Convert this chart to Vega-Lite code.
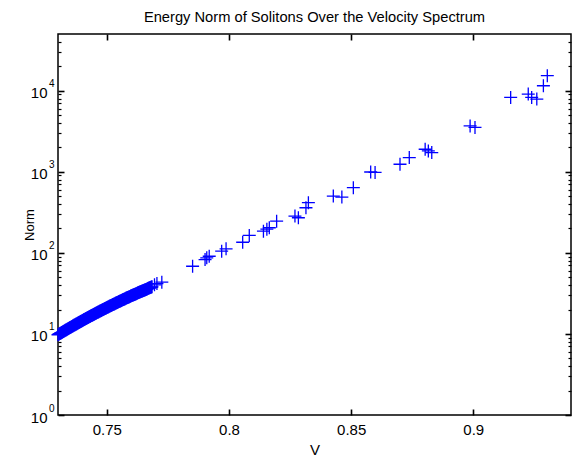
{
  "$schema": "https://vega.github.io/schema/vega-lite/v6.json",
  "width": 513,
  "height": 381,
  "autosize": {"type": "none"},
  "padding": {"left": 58, "top": 34, "right": 4, "bottom": 49},
  "background": "white",
  "title": {"text": "Energy Norm of Solitons Over the Velocity Spectrum", "font": "Liberation Sans", "fontSize": 14.7, "fontWeight": "normal", "color": "black", "offset": 9, "anchor": "middle"},
  "config": {
    "view": {"stroke": "black", "strokeWidth": 1.5},
    "axis": {"domain": false, "grid": false, "tickColor": "black", "tickWidth": 1.6, "labelColor": "black", "labelFont": "Liberation Sans", "labelFontSize": 15, "titleFont": "Liberation Sans", "titleColor": "black", "titleFontWeight": "normal", "labelFlush": false, "labelOverlap": false}
  },
  "datasets": {
    "pts": [
      {"v":0.7300,"norm":9.77},{"v":0.7305,"norm":9.98},{"v":0.7310,"norm":10.19},{"v":0.7315,"norm":10.40},{"v":0.7320,"norm":10.62},
      {"v":0.7325,"norm":10.84},{"v":0.7330,"norm":11.07},{"v":0.7335,"norm":11.29},{"v":0.7340,"norm":11.53},{"v":0.7345,"norm":11.76},
      {"v":0.7350,"norm":12.00},{"v":0.7355,"norm":12.25},{"v":0.7360,"norm":12.50},{"v":0.7365,"norm":12.75},{"v":0.7370,"norm":13.00},
      {"v":0.7375,"norm":13.26},{"v":0.7380,"norm":13.53},{"v":0.7385,"norm":13.79},{"v":0.7390,"norm":14.07},{"v":0.7395,"norm":14.34},
      {"v":0.7400,"norm":14.62},{"v":0.7405,"norm":14.91},{"v":0.7410,"norm":15.19},{"v":0.7415,"norm":15.49},{"v":0.7420,"norm":15.78},
      {"v":0.7425,"norm":16.08},{"v":0.7430,"norm":16.39},{"v":0.7435,"norm":16.70},{"v":0.7440,"norm":17.01},{"v":0.7445,"norm":17.33},
      {"v":0.7450,"norm":17.65},{"v":0.7455,"norm":17.98},{"v":0.7460,"norm":18.31},{"v":0.7465,"norm":18.65},{"v":0.7470,"norm":18.99},
      {"v":0.7475,"norm":19.33},{"v":0.7480,"norm":19.68},{"v":0.7485,"norm":20.04},{"v":0.7490,"norm":20.40},{"v":0.7495,"norm":20.76},
      {"v":0.7500,"norm":21.13},{"v":0.7505,"norm":21.50},{"v":0.7510,"norm":21.88},{"v":0.7515,"norm":22.26},{"v":0.7520,"norm":22.64},
      {"v":0.7525,"norm":23.04},{"v":0.7530,"norm":23.43},{"v":0.7535,"norm":23.84},{"v":0.7540,"norm":24.24},{"v":0.7545,"norm":24.65},
      {"v":0.7550,"norm":25.07},{"v":0.7555,"norm":25.49},{"v":0.7560,"norm":25.92},{"v":0.7565,"norm":26.34},{"v":0.7570,"norm":26.78},
      {"v":0.7575,"norm":27.22},{"v":0.7580,"norm":27.66},{"v":0.7585,"norm":28.10},{"v":0.7590,"norm":28.56},{"v":0.7595,"norm":29.02},
      {"v":0.7600,"norm":29.48},{"v":0.7605,"norm":29.95},{"v":0.7610,"norm":30.42},{"v":0.7615,"norm":30.90},{"v":0.7620,"norm":31.38},
      {"v":0.7625,"norm":31.87},{"v":0.7630,"norm":32.36},{"v":0.7635,"norm":32.86},{"v":0.7640,"norm":33.36},{"v":0.7645,"norm":33.86},
      {"v":0.7650,"norm":34.37},{"v":0.7655,"norm":34.89},{"v":0.7660,"norm":35.41},{"v":0.7665,"norm":35.93},{"v":0.7670,"norm":36.46},
      {"v":0.7675,"norm":37.00},{"v":0.7680,"norm":37.54},{"v":0.7685,"norm":38.08},
      {"v":0.73025,"norm":9.875},{"v":0.73075,"norm":10.085},{"v":0.73125,"norm":10.295},{"v":0.73175,"norm":10.51},{"v":0.73225,"norm":10.73},
      {"v":0.73275,"norm":10.955},{"v":0.73325,"norm":11.18},{"v":0.73375,"norm":11.41},{"v":0.73425,"norm":11.645},{"v":0.73475,"norm":11.88},
      {"v":0.73525,"norm":12.125},{"v":0.73575,"norm":12.375},{"v":0.73625,"norm":12.625},{"v":0.73675,"norm":12.875},{"v":0.73725,"norm":13.13},
      {"v":0.73775,"norm":13.395},{"v":0.73825,"norm":13.66},{"v":0.73875,"norm":13.93},{"v":0.73925,"norm":14.205},{"v":0.73975,"norm":14.48},
      {"v":0.74025,"norm":14.765},{"v":0.74075,"norm":15.05},{"v":0.74125,"norm":15.34},{"v":0.74175,"norm":15.635},{"v":0.74225,"norm":15.93},
      {"v":0.74275,"norm":16.235},{"v":0.74325,"norm":16.545},{"v":0.74375,"norm":16.855},{"v":0.74425,"norm":17.17},{"v":0.74475,"norm":17.49},
      {"v":0.74525,"norm":17.815},{"v":0.74575,"norm":18.145},{"v":0.74625,"norm":18.48},{"v":0.74675,"norm":18.82},{"v":0.74725,"norm":19.16},
      {"v":0.74775,"norm":19.505},{"v":0.74825,"norm":19.86},{"v":0.74875,"norm":20.22},{"v":0.74925,"norm":20.58},{"v":0.74975,"norm":20.945},
      {"v":0.75025,"norm":21.315},{"v":0.75075,"norm":21.69},{"v":0.75125,"norm":22.07},{"v":0.75175,"norm":22.45},{"v":0.75225,"norm":22.84},
      {"v":0.75275,"norm":23.235},{"v":0.75325,"norm":23.635},{"v":0.75375,"norm":24.04},{"v":0.75425,"norm":24.445},{"v":0.75475,"norm":24.86},
      {"v":0.75525,"norm":25.28},{"v":0.75575,"norm":25.705},{"v":0.75625,"norm":26.13},{"v":0.75675,"norm":26.56},{"v":0.75725,"norm":27.0},
      {"v":0.75775,"norm":27.44},{"v":0.75825,"norm":27.88},{"v":0.75875,"norm":28.33},{"v":0.75925,"norm":28.79},{"v":0.75975,"norm":29.25},
      {"v":0.76025,"norm":29.715},{"v":0.76075,"norm":30.185},{"v":0.76125,"norm":30.66},{"v":0.76175,"norm":31.14},{"v":0.76225,"norm":31.625},
      {"v":0.76275,"norm":32.115},{"v":0.76325,"norm":32.61},{"v":0.76375,"norm":33.11},{"v":0.76425,"norm":33.61},{"v":0.76475,"norm":34.115},
      {"v":0.76525,"norm":34.63},{"v":0.76575,"norm":35.15},{"v":0.76625,"norm":35.67},{"v":0.76675,"norm":36.195},{"v":0.76725,"norm":36.73},
      {"v":0.76775,"norm":37.27},{"v":0.76825,"norm":37.81},
      {"v":0.7695,"norm":40.3},{"v":0.7705,"norm":41.8},{"v":0.7725,"norm":43.5},
      {"v":0.7851,"norm":68.3},{"v":0.7902,"norm":82.6},{"v":0.7909,"norm":86.7},{"v":0.7919,"norm":90.8},
      {"v":0.7970,"norm":104.7},{"v":0.7988,"norm":112},{"v":0.8056,"norm":135},{"v":0.8083,"norm":164},
      {"v":0.8141,"norm":185},{"v":0.8155,"norm":196},{"v":0.8165,"norm":204},{"v":0.8195,"norm":246},
      {"v":0.8270,"norm":284},{"v":0.8284,"norm":271},{"v":0.8315,"norm":360},{"v":0.8325,"norm":415},
      {"v":0.8427,"norm":501},{"v":0.8462,"norm":487},{"v":0.8509,"norm":637},{"v":0.8580,"norm":993},
      {"v":0.8598,"norm":980},{"v":0.8700,"norm":1237},{"v":0.8738,"norm":1497},{"v":0.8803,"norm":1896},
      {"v":0.8816,"norm":1806},{"v":0.8830,"norm":1726},{"v":0.8987,"norm":3680},{"v":0.9007,"norm":3517},
      {"v":0.9153,"norm":8260},{"v":0.9225,"norm":9080},{"v":0.9239,"norm":8260},{"v":0.9260,"norm":7870},
      {"v":0.9287,"norm":11500},{"v":0.9303,"norm":15300}
    ],
    "helper": [{"v":0.8,"norm":10}]
  },
  "resolve": {"axis": {"x": "independent", "y": "independent"}},
  "layer": [
    {
      "data": {"name": "pts"},
      "mark": {"type": "point", "shape": "M-1,0L1,0M0,-1L0,1", "filled": false, "stroke": "#0000ff", "strokeWidth": 1.3, "size": 169, "opacity": 1},
      "encoding": {
        "x": {"field": "v", "type": "quantitative", "scale": {"domain": [0.73, 0.94], "nice": false, "zero": false},
              "axis": {"orient": "bottom", "values": [0.75, 0.8, 0.85, 0.9], "format": "~g", "tickSize": -6, "labelPadding": 13, "title": "V", "titleFontSize": 15, "titlePadding": 5}},
        "y": {"field": "norm", "type": "quantitative", "scale": {"type": "log", "domain": [1, 50000], "nice": false},
              "axis": {"orient": "left", "values": [1, 10, 100, 1000, 10000], "labelExpr": "'10'", "tickSize": -6, "labelPadding": 17, "labelOffset": 2, "title": "Norm", "titleFontSize": 13, "titlePadding": -6}}
      }
    },
    {
      "data": {"name": "helper"},
      "mark": {"type": "point", "opacity": 0},
      "encoding": {
        "x": {"field": "v", "type": "quantitative", "scale": {"domain": [0.73, 0.94], "nice": false, "zero": false},
              "axis": {"orient": "top", "values": [0.75, 0.8, 0.85, 0.9], "tickSize": -6, "labels": false, "title": null}},
        "y": {"field": "norm", "type": "quantitative", "scale": {"type": "log", "domain": [1, 50000], "nice": false},
              "axis": {"orient": "left", "values": [1, 10, 100, 1000, 10000], "ticks": false, "labelExpr": "'' + round(log(datum.value) / LN10)", "labelFontSize": 10, "labelPadding": 4, "labelOffset": -7, "title": null}}
      }
    },
    {
      "data": {"name": "helper"},
      "mark": {"type": "point", "opacity": 0},
      "encoding": {
        "x": {"field": "v", "type": "quantitative", "scale": {"domain": [0.73, 0.94], "nice": false, "zero": false}, "axis": null},
        "y": {"field": "norm", "type": "quantitative", "scale": {"type": "log", "domain": [1, 50000], "nice": false},
              "axis": {"orient": "left", "values": [2,3,4,5,6,7,8,9,20,30,40,50,60,70,80,90,200,300,400,500,600,700,800,900,2000,3000,4000,5000,6000,7000,8000,9000,20000,30000,40000], "tickSize": -3, "tickWidth": 1.2, "labels": false, "title": null}}
      }
    },
    {
      "data": {"name": "helper"},
      "mark": {"type": "point", "opacity": 0},
      "encoding": {
        "x": {"field": "v", "type": "quantitative", "scale": {"domain": [0.73, 0.94], "nice": false, "zero": false}, "axis": null},
        "y": {"field": "norm", "type": "quantitative", "scale": {"type": "log", "domain": [1, 50000], "nice": false},
              "axis": {"orient": "right", "values": [1, 10, 100, 1000, 10000], "tickSize": -6, "labels": false, "title": null}}
      }
    },
    {
      "data": {"name": "helper"},
      "mark": {"type": "point", "opacity": 0},
      "encoding": {
        "x": {"field": "v", "type": "quantitative", "scale": {"domain": [0.73, 0.94], "nice": false, "zero": false}, "axis": null},
        "y": {"field": "norm", "type": "quantitative", "scale": {"type": "log", "domain": [1, 50000], "nice": false},
              "axis": {"orient": "right", "values": [2,3,4,5,6,7,8,9,20,30,40,50,60,70,80,90,200,300,400,500,600,700,800,900,2000,3000,4000,5000,6000,7000,8000,9000,20000,30000,40000], "tickSize": -3, "tickWidth": 1.2, "labels": false, "title": null}}
      }
    }
  ]
}
